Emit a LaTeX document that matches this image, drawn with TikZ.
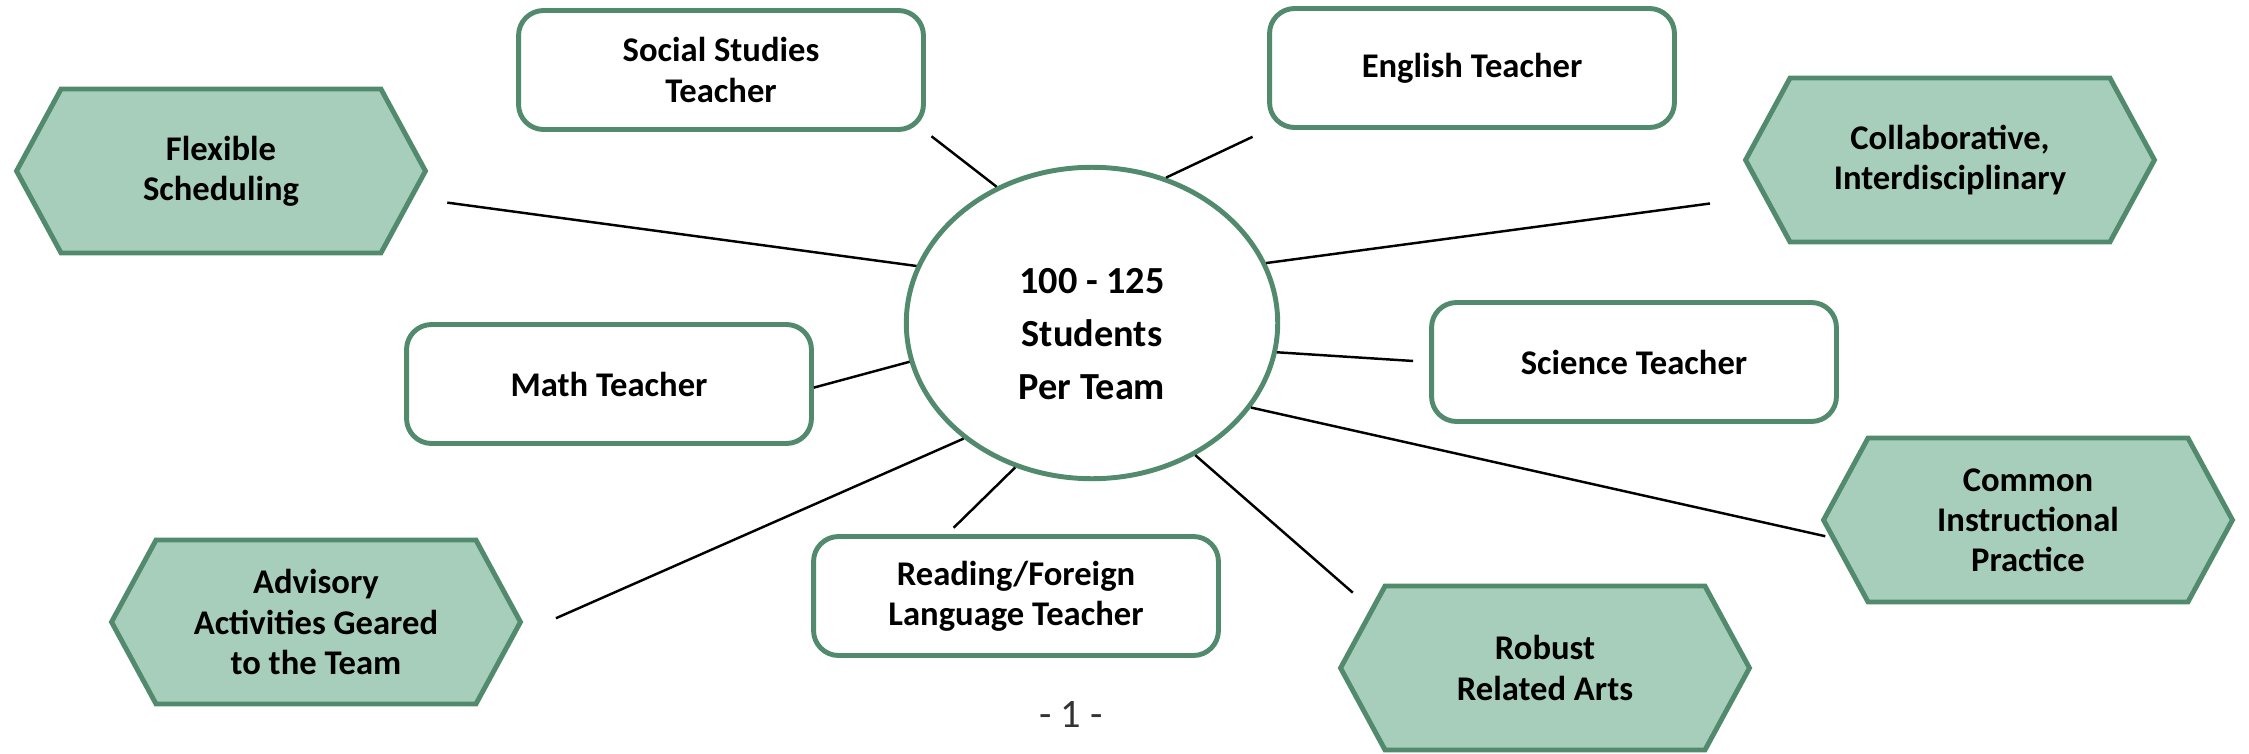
\documentclass[tikz,border=0pt]{standalone}
\usepackage{fontspec}
\setmainfont{Carlito}
\usetikzlibrary{shapes.geometric,shapes.symbols}
\definecolor{teamgreen}{RGB}{82,138,110}
\definecolor{teamfill}{RGB}{167,205,187}
\begin{document}
\begin{tikzpicture}[x=0.02cm,y=-0.02cm,
  teacher/.style={draw=teamgreen, line width=2.8pt, rounded corners=0.5cm, fill=white,
    minimum width=8.1cm, minimum height=2.38cm, align=center,
    font=\bfseries\fontsize{19.7}{22.8}\selectfont},
  trait/.style={signal, signal to=west and east, signal pointer angle=123,
    draw=teamgreen, line width=2.8pt, fill=teamfill,
    minimum width=8.18cm, minimum height=3.28cm, align=center,
    font=\bfseries\fontsize{19.7}{22.8}\selectfont},
  hub/.style={ellipse, draw=teamgreen, line width=2.8pt, inner sep=0pt,
    minimum width=7.43cm, minimum height=6.23cm},
  hubtext/.style={align=center, yshift=-0.22cm,
    font=\bfseries\fontsize{21.8}{30}\selectfont},
  spoke/.style={draw, line width=1.4pt}]
\useasboundingbox (0,0) rectangle (2249,754);

\node[hub, label={[hubtext, name=teamtext]center:100 - 125\\Students\\Per Team}] (team) at (1092,323) {};

\node[teacher] (social) at (721,70) {Social Studies\\Teacher};
\node[teacher] (english) at (1472,68) {English Teacher};
\node[teacher] (math) at (609,384) {Math Teacher};
\node[teacher] (science) at (1634,362) {Science Teacher};
\node[teacher] (reading) at (1016,596) {Reading/Foreign\\Language Teacher};

\node[trait] (flex) at (221,171) {Flexible\\Scheduling};
\node[trait] (collab) at (1950,160) {Collaborative,\\Interdisciplinary};
\node[trait] (common) at (2028,520) {Common\\Instructional\\Practice};
\node[trait] (advisory) at (316,622) {Advisory\\Activities Geared\\to the Team};
\node[trait] (arts) at (1545,668) {Robust\\Related Arts};

\path[spoke, shorten >=0.14cm] (team.125) -- (social.south east);
\path[spoke, shorten >=0.32cm] (team.63) -- (english.south west);
\path[spoke, shorten >=0.68cm] (team.162) -- (flex.-8);
\path[spoke, shorten >=1.06cm] (team.19) -- (collab.191);
\path[spoke] (team.192) -- (math.-1);
\path[spoke, shorten >=0.32cm] (team.351) -- (science.west);
\path[spoke, shorten >=0.1cm] (team.332) -- (common.185);
\path[spoke, shorten >=0.88cm] (team.222) -- (advisory.-4);
\path[spoke, shorten >=0.18cm] (team.242) -- (reading.138);
\path[spoke, shorten >=0.46cm] (team.308) -- (arts.161);

\node[font=\fontsize{23}{26}\selectfont, text=black!80] (page) at (1071,714) {- 1 -};
\end{tikzpicture}
\end{document}
